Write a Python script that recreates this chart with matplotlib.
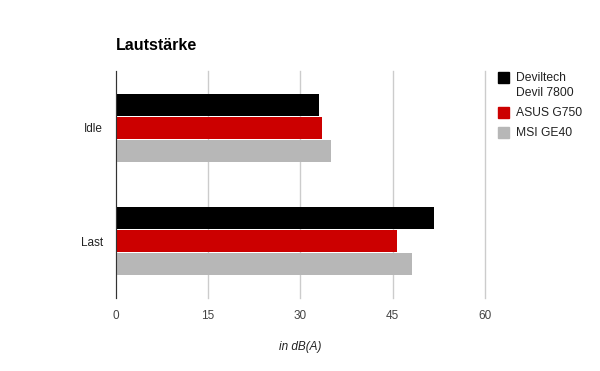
import matplotlib.pyplot as plt
from matplotlib.patches import Rectangle

plt.rcParams['font.family'] = ['Liberation Sans', 'DejaVu Sans']

categories = ["Idle", "Last"]
series_names = ["Deviltech\nDevil 7800", "ASUS G750", "MSI GE40"]
deviltech = [33.0, 51.7]
asus = [33.5, 45.7]
msi = [35.0, 48.1]
colors = ["#000000", "#cc0000", "#b7b7b7"]
x_ticks = [0, 15, 30, 45, 60]

fig = plt.figure(figsize=(6, 3.71), dpi=100)
ax = fig.add_axes([0.1925, 0.1968, 0.6158, 0.6119])

values = [deviltech, asus, msi]
offset = 0.2026
for k, (vals, col) in enumerate(zip(values, colors)):
    ys = [i + (k - 1) * offset for i in range(len(categories))]
    ax.barh(ys, vals, height=0.194, color=col, zorder=3)

ax.set_xlim(0, 60)
ax.set_ylim(1.5, -0.5)
ax.set_xticks(x_ticks)
ax.set_xticklabels([str(t) for t in x_ticks], color="#444444", fontsize=8.5)
ax.set_yticks(range(len(categories)))
ax.set_yticklabels(categories, color="#222222", fontsize=8.5)
ax.tick_params(axis="both", length=0)
ax.tick_params(axis="x", pad=9)
ax.tick_params(axis="y", pad=9)
ax.grid(axis="x", color="#cccccc", linewidth=1, zorder=0)
for gl in ax.get_xgridlines():
    gl.set_clip_on(False)
for s in ["top", "right", "bottom"]:
    ax.spines[s].set_visible(False)
ax.spines["left"].set_color("#333333")
ax.spines["left"].set_zorder(4)

ax.set_xlabel("in dB(A)", style="italic", fontsize=8.5, color="#222222", labelpad=13)

fig.text(116 / 600, 1 - 46 / 371, "Lautstärke", fontsize=11.5, fontweight="bold",
         va="center", ha="left", color="#000000")

# legend
legend_rows = [(76, 91.5), (111, None), (131, None)]
for (y1, y2), name, col in zip(legend_rows, series_names, colors):
    fig.patches.append(Rectangle((498 / 600, 1 - (y1 + 7) / 371), 11 / 600, 11 / 371,
                                 transform=fig.transFigure, color=col))
    lines = name.split("\n")
    fig.text(516 / 600, 1 - (y1 + 2) / 371, lines[0], fontsize=8.7, color="#222222",
             va="center", ha="left")
    if y2 is not None:
        fig.text(516 / 600, 1 - (y2 + 2) / 371, lines[1], fontsize=8.7, color="#222222",
                 va="center", ha="left")

plt.savefig("out.png", dpi=100)
plt.close()
